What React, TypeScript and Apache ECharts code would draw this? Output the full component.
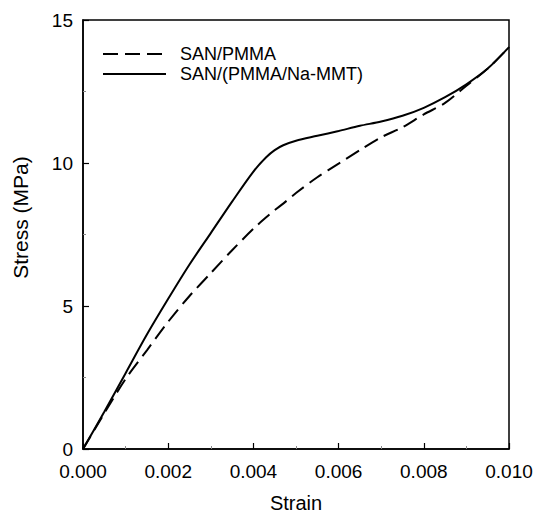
import React, { useEffect, useRef } from "react";
import * as echarts from "echarts";

const strain = [0, 0.0005, 0.001, 0.0015, 0.002, 0.0025, 0.003, 0.0035, 0.004, 0.0043, 0.0045, 0.0047, 0.005, 0.0055, 0.006, 0.0065, 0.007, 0.0075, 0.008, 0.0085, 0.009, 0.0095, 0.01];
const stressNaMMT = [0, 1.3, 2.65, 4.0, 5.25, 6.45, 7.55, 8.65, 9.7, 10.2, 10.45, 10.62, 10.78, 10.95, 11.12, 11.3, 11.45, 11.65, 11.93, 12.3, 12.75, 13.3, 14.05];
const stressPMMA = [0, 1.25, 2.45, 3.45, 4.45, 5.35, 6.15, 6.95, 7.7, 8.1, 8.35, 8.58, 8.95, 9.5, 9.98, 10.45, 10.9, 11.25, 11.7, 12.1, 12.7, 13.3, 14.05];
const seriesNames = ["SAN/PMMA", "SAN/(PMMA/Na-MMT)"];
const xTicks = [0, 0.002, 0.004, 0.006, 0.008, 0.01];
const yTicks = [0, 5, 10, 15];

const FONT = "Liberation Sans, Arial, sans-serif";

export default function App() {
  const ref = useRef<HTMLDivElement>(null);
  useEffect(() => {
    if (!ref.current) return;
    const chart = echarts.init(ref.current, undefined, { renderer: "svg" });
    const pairs = (ys: number[]) => strain.map((s, i) => [s, ys[i]]);
    chart.setOption({
      animation: false,
      backgroundColor: "#fff",
      grid: {
        left: 83,
        right: 29,
        top: 20,
        bottom: 65,
        show: true,
        borderColor: "#000",
        borderWidth: 1.5,
        containLabel: false,
        outerBoundsMode: "none",
      },
      legend: {
        orient: "vertical",
        left: 97,
        top: 40,
        itemWidth: 63,
        itemHeight: 14,
        itemGap: 2,
        itemStyle: { opacity: 0 },
        textStyle: { fontSize: 18, fontFamily: FONT, color: "#000", padding: [0, 0, 0, 9] },
        data: seriesNames,
      },
      xAxis: {
        type: "value",
        min: 0,
        max: 0.01,
        interval: 0.002,
        name: "Strain",
        nameLocation: "middle",
        nameGap: 44,
        nameTextStyle: { fontSize: 20, lineHeight: 20, fontFamily: FONT, color: "#000" },
        axisLine: { show: true, lineStyle: { color: "#000", width: 1.5 } },
        axisTick: { show: true, inside: true, length: 6, lineStyle: { color: "#000", width: 1.2 } },
        minorTick: { show: true, splitNumber: 2, length: 3, lineStyle: { color: "#888", width: 1 } },
        splitLine: { show: false },
        axisLabel: {
          margin: 13,
          fontSize: 19,
          fontFamily: FONT,
          color: "#000",
          formatter: (v: number) => (xTicks.some((t) => Math.abs(t - v) < 1e-9) ? v.toFixed(3) : ""),
        },
      },
      yAxis: {
        type: "value",
        min: 0,
        max: 15,
        interval: 5,
        name: "Stress (MPa)",
        nameLocation: "middle",
        nameGap: 52,
        nameTextStyle: { fontSize: 21, fontFamily: FONT, color: "#000", padding: [0, 0, 0, 34] },
        axisLine: { show: true, lineStyle: { color: "#000", width: 1.5 } },
        axisTick: { show: true, inside: true, length: 6, lineStyle: { color: "#000", width: 1.2 } },
        minorTick: { show: true, splitNumber: 2, length: 3, lineStyle: { color: "#888", width: 1 } },
        splitLine: { show: false },
        axisLabel: {
          margin: 10,
          fontSize: 19,
          fontFamily: FONT,
          color: "#000",
          formatter: (v: number) => (yTicks.includes(v) ? String(v) : ""),
        },
      },
      series: [
        {
          name: seriesNames[0],
          type: "line",
          smooth: 0.3,
          symbol: "none",
          data: pairs(stressPMMA),
          lineStyle: { color: "#000", width: 2, type: [15, 7] },
          itemStyle: { color: "#000" },
        },
        {
          name: seriesNames[1],
          type: "line",
          smooth: 0.3,
          symbol: "none",
          data: pairs(stressNaMMT),
          lineStyle: { color: "#000", width: 2, type: "solid" },
          itemStyle: { color: "#000" },
        },
      ],
    });
    return () => chart.dispose();
  }, []);
  return <div ref={ref} style={{ position: "fixed", left: 0, top: 0, width: 538, height: 514 }} />;
}
